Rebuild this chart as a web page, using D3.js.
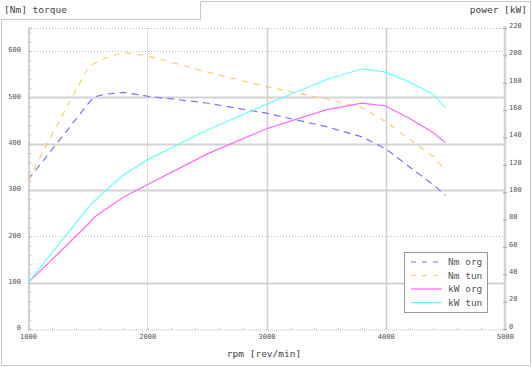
<!DOCTYPE html>
<html><head><meta charset="utf-8">
<script src="https://cdn.jsdelivr.net/npm/d3@7"></script>
<style>
html,body{margin:0;padding:0;background:#fff;}
svg{display:block;}
text{font-family:"DejaVu Sans Mono",monospace;white-space:pre;}
</style></head>
<body>
<svg id="c" width="532" height="367"></svg>
<script>
const rpm      = [1000,1500,1550,1650,1800,2000,2500,3000,3500,3800,4000,4200,4400,4500];
const nmOrg    = [322, 485, 501, 507, 511, 503, 488, 466, 437, 415, 389, 350, 311, 289];
const nmTun    = [322, 563, 573, 585, 597, 590, 555, 523, 497, 478, 448, 410, 372, 343];
const kwOrg    = [33.7,76.2,81.3,87.6,96.3,105.4,127.8,146.4,160.2,165.1,163.0,153.9,143.4,136.2];
const kwTun    = [33.7,88.4,93.0,101.1,112.5,123.6,145.3,164.3,182.2,190.2,187.7,180.4,171.4,161.6];
const xTicks   = [1000,2000,3000,4000,5000];
const nmTicks  = [0,100,200,300,400,500,600];
const kwTicks  = [0,20,40,60,80,100,120,140,160,180,200,220];
const legendLabels = ["Nm org","Nm tun","kW org","kW tun"];

const svg = d3.select("#c");
const x  = d3.scaleLinear([1000,5000],[28,505]);
const yL = d3.scaleLinear([0,650],[329,28]);
const yR = d3.scaleLinear([0,220],[329,28]);

// outer frame
svg.append("path").attr("d","M1.5,19.5H200.5V1.5H530.5V365.5H1.5Z")
  .attr("fill","none").attr("stroke","#c8c8c8").attr("stroke-width",1);

const grid = svg.append("g");
// horizontal grid
nmTicks.filter(d=>d>0).forEach(d=>{
  const dotted = (d===600||d===200);
  grid.append("line").attr("x1",x(1000)).attr("x2",x(5000))
    .attr("y1",Math.round(yL(d))+0.5).attr("y2",Math.round(yL(d))+0.5)
    .attr("stroke",dotted?"#bbb":"#d4d4d4").attr("stroke-width",dotted?1:2)
    .attr("stroke-dasharray",dotted?"1,2":null);
});
// top border dotted
grid.append("line").attr("x1",x(1000)).attr("x2",x(5000)).attr("y1",28.5).attr("y2",28.5)
  .attr("stroke","#bbb").attr("stroke-dasharray","1,2");
// vertical grid
[2000,3000,4000].forEach(d=>{
  const dotted = d===2000;
  grid.append("line").attr("x1",Math.round(x(d))+0.5).attr("x2",Math.round(x(d))+0.5)
    .attr("y1",28).attr("y2",329)
    .attr("stroke",dotted?"#c4c4c4":"#d0d0d0").attr("stroke-width",dotted?1:1.5)
    .attr("stroke-dasharray",dotted?"1,1":null);
});

// left axis
const gL = svg.append("g").attr("transform","translate(28.5,0)");
gL.call(d3.axisRight(yL).tickValues(d3.range(0,651,20)).tickSize(3).tickFormat(""));
gL.select(".domain").attr("stroke","#d0d0d0").attr("stroke-width",2);
gL.selectAll(".tick line").attr("stroke","#c8c8c8");
const gLl = svg.append("g").attr("transform","translate(21,0)");
gLl.call(d3.axisLeft(yL).tickValues(nmTicks).tickSize(0).tickPadding(0).tickFormat(d3.format("d")));
gLl.select(".domain").remove();
gLl.selectAll("text").attr("font-size",7).attr("fill","#555").attr("dy","0.1em")
  .attr("font-family","DejaVu Sans Mono,monospace");

// bottom axis
const gB = svg.append("g").attr("transform","translate(0,329.5)");
gB.call(d3.axisTop(x).tickValues(d3.range(1000,5001,200)).tickSize(2).tickFormat(""));
gB.select(".domain").attr("stroke","#bbb").attr("stroke-dasharray","1,1");
gB.selectAll(".tick line").attr("stroke","#bbb");
const gBl = svg.append("g").attr("transform","translate(0,337)");
gBl.call(d3.axisBottom(x).tickValues(xTicks).tickSize(0).tickPadding(0).tickFormat(d3.format("d")));
gBl.select(".domain").remove();
gBl.selectAll("text").attr("font-size",7).attr("fill","#555").attr("dy","0.32em")
  .attr("font-family","DejaVu Sans Mono,monospace");

// right axis
const gR = svg.append("g").attr("transform","translate(505,0)");
gR.append("line").attr("x1",0).attr("x2",0).attr("y1",26).attr("y2",331)
  .attr("stroke","#d4d4d4").attr("stroke-width",2.5);
gR.call(d3.axisRight(yR).tickValues(kwTicks).tickSize(2).tickPadding(2).tickFormat(d3.format("d")));
gR.select(".domain").remove();
gR.selectAll(".tick line").attr("stroke","#aaa").attr("x1",-2);
gR.selectAll("text").attr("font-size",7).attr("fill","#555").attr("dy","-0.1em")
  .attr("font-family","DejaVu Sans Mono,monospace");

// titles
svg.append("text").attr("x",4).attr("y",13).attr("font-size",9.5).attr("fill","#444").text("[Nm] torque");
svg.append("text").attr("x",527).attr("y",13).attr("font-size",9.5).attr("fill","#444").attr("text-anchor","end").text("power [kW]");
svg.append("text").attr("x",264).attr("y",357).attr("font-size",9.5).attr("fill","#444").attr("text-anchor","middle").text("rpm [rev/min]");

// series
const series = [
  {vals:nmOrg, y:yL, color:"#7777ff", dash:"7,5"},
  {vals:nmTun, y:yL, color:"#ffcc66", dash:"6,6"},
  {vals:kwOrg, y:yR, color:"#ff66ff", dash:null},
  {vals:kwTun, y:yR, color:"#66ffff", dash:null}
];
series.forEach(s=>{
  const line = d3.line().x((d,i)=>x(rpm[i])).y(d=>s.y(d));
  svg.append("path").datum(s.vals).attr("d",line)
    .attr("fill","none").attr("stroke",s.color).attr("stroke-width",1.2)
    .attr("stroke-dasharray",s.dash);
});

// legend
const lg = svg.append("g");
lg.append("rect").attr("x",404.5).attr("y",252.5).attr("width",83).attr("height",60)
  .attr("fill","#fff").attr("stroke","#999");
const rowY = [262,275.5,289,302.5];
legendLabels.forEach((lab,i)=>{
  const s = series[i];
  lg.append("line").attr("x1",411).attr("x2",442).attr("y1",rowY[i]).attr("y2",rowY[i])
    .attr("stroke",s.color).attr("stroke-width",1.2).attr("stroke-dasharray",s.dash?"5,6":null);
  lg.append("text").attr("x",448).attr("y",rowY[i]).attr("dy","0.35em").attr("font-size",9.5)
    .attr("fill","#555").text(lab);
});
</script>
</body></html>
